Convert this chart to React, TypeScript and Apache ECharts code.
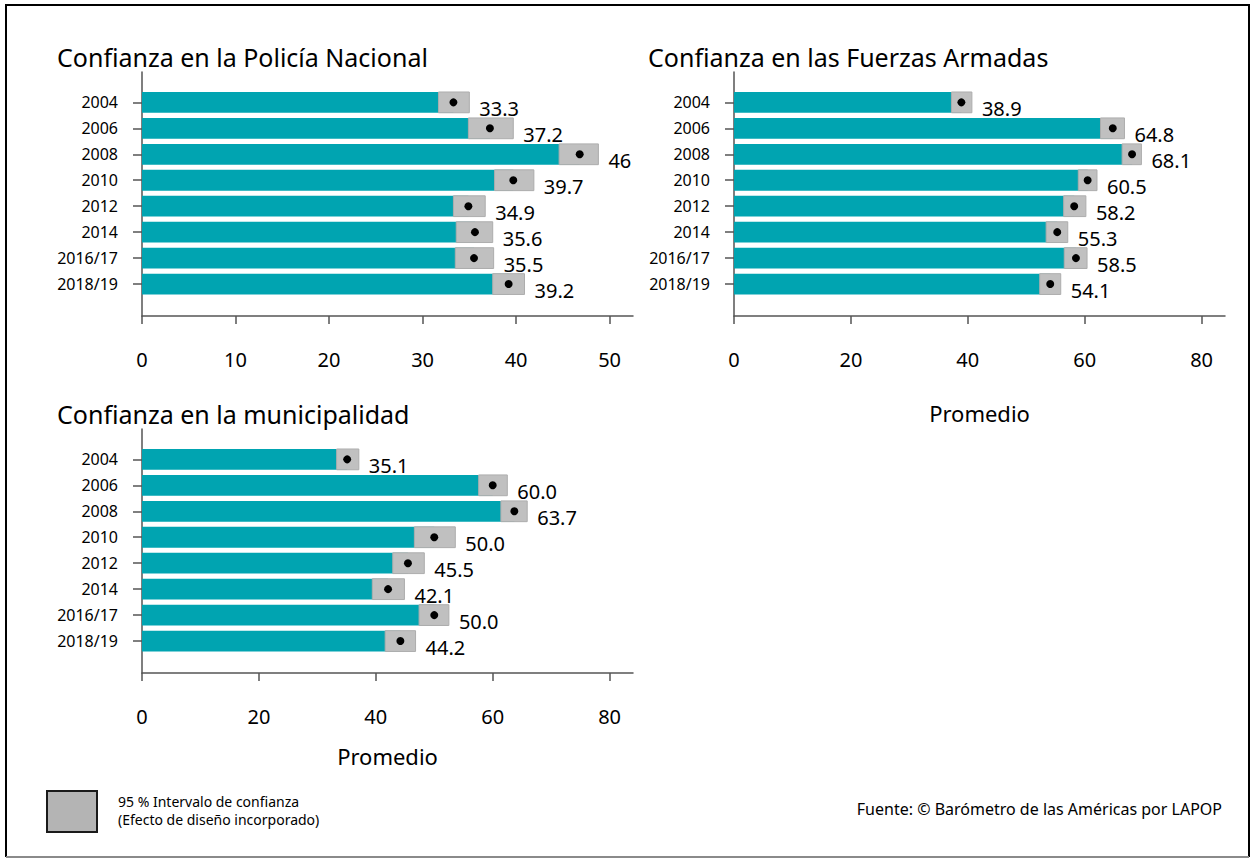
import React, { useEffect, useRef } from 'react';
import * as echarts from 'echarts';

const years = ['2004', '2006', '2008', '2010', '2012', '2014', '2016/17', '2018/19'];

const policiaMean = [33.3, 37.2, 46.8, 39.7, 34.9, 35.6, 35.5, 39.2];
const policiaLow = [31.7, 34.9, 44.6, 37.7, 33.3, 33.6, 33.5, 37.5];
const policiaHigh = [35.0, 39.7, 48.8, 41.9, 36.7, 37.5, 37.6, 40.9];
const policiaLabels = ['33.3', '37.2', '46', '39.7', '34.9', '35.6', '35.5', '39.2'];

const fuerzasMean = [38.9, 64.8, 68.1, 60.5, 58.2, 55.3, 58.5, 54.1];
const fuerzasLow = [37.2, 62.7, 66.4, 58.9, 56.4, 53.4, 56.5, 52.3];
const fuerzasHigh = [40.7, 66.8, 69.7, 62.1, 60.2, 57.1, 60.4, 55.9];
const fuerzasLabels = ['38.9', '64.8', '68.1', '60.5', '58.2', '55.3', '58.5', '54.1'];

const muniMean = [35.1, 60.0, 63.7, 50.0, 45.5, 42.1, 50.0, 44.2];
const muniLow = [33.3, 57.6, 61.4, 46.6, 42.9, 39.4, 47.4, 41.6];
const muniHigh = [37.1, 62.5, 65.9, 53.6, 48.3, 44.9, 52.5, 46.8];
const muniLabels = ['35.1', '60.0', '63.7', '50.0', '45.5', '42.1', '50.0', '44.2'];

const ticks50 = [0, 10, 20, 30, 40, 50];
const ticks80 = [0, 20, 40, 60, 80];

const titles = [
  'Confianza en la Policía Nacional',
  'Confianza en las Fuerzas Armadas',
  'Confianza en la municipalidad',
];
const axisName = 'Promedio';
const legendLines = ['95 % Intervalo de confianza', '(Efecto de diseño incorporado)'];
const sourceText = 'Fuente: © Barómetro de las Américas por LAPOP';

const FONT = '"Noto Sans", "Open Sans", sans-serif';
const TEAL = '#00a4b1';
const CI_FILL = '#c0c0c0';
const AXIS_COLOR = '#555555';

const yPositions = years.map((_, i) => i);

function makeSeries(gi: number, mean: number[], low: number[], high: number[], labels: string[]) {
  const data = years.map((_, i) => [mean[i], i, low[i], high[i]]);
  return {
    type: 'custom',
    xAxisIndex: gi,
    yAxisIndex: gi,
    data,
    encode: { x: [0, 2, 3], y: 1 },
    renderItem: (params: any, api: any) => {
      const m = api.value(0);
      const idx = api.value(1);
      const lo = api.value(2);
      const hi = api.value(3);
      const h = api.size([0, 0.8])[1];
      const p0 = api.coord([0, idx]);
      const pm = api.coord([m, idx]);
      const pl = api.coord([lo, idx]);
      const ph = api.coord([hi, idx]);
      return {
        type: 'group',
        children: [
          {
            type: 'rect',
            shape: { x: p0[0], y: p0[1] - h / 2, width: pm[0] - p0[0], height: h },
            style: { fill: TEAL },
          },
          {
            type: 'rect',
            shape: { x: pl[0], y: pl[1] - h / 2, width: ph[0] - pl[0], height: h },
            style: { fill: CI_FILL, stroke: '#adadad', lineWidth: 1 },
          },
          {
            type: 'circle',
            shape: { cx: pm[0], cy: pm[1], r: 4 },
            style: { fill: '#000' },
          },
          {
            type: 'text',
            style: {
              text: labels[params.dataIndex],
              x: ph[0] + 10,
              y: pm[1] + 6,
              fill: '#000',
              font: `20px ${FONT}`,
              align: 'left',
              verticalAlign: 'middle',
            },
          },
        ],
      };
    },
  };
}

function xAxisCfg(gi: number, max: number, ticks: number[], withName: boolean, nameGap: number) {
  return {
    gridIndex: gi,
    type: 'value',
    position: 'bottom',
    min: 0,
    max,
    name: withName ? axisName : '',
    nameLocation: 'middle',
    nameGap,
    nameTextStyle: { fontFamily: FONT, fontSize: 22, color: '#000' },
    axisLine: { show: true, onZero: false, lineStyle: { color: AXIS_COLOR, width: 1.5 } },
    axisTick: { show: true, length: 8, customValues: ticks, lineStyle: { color: AXIS_COLOR, width: 1.5 } },
    axisLabel: { customValues: ticks, fontFamily: FONT, fontSize: 20, color: '#000', margin: 33 },
    splitLine: { show: false },
  };
}

function yAxisCfg(gi: number) {
  return {
    gridIndex: gi,
    type: 'value',
    position: 'left',
    inverse: true,
    min: -1.17,
    max: 8.23,
    axisLine: { show: true, onZero: false, lineStyle: { color: AXIS_COLOR, width: 1.5 } },
    axisTick: { show: true, length: 9, customValues: yPositions, lineStyle: { color: AXIS_COLOR, width: 1.5 } },
    axisLabel: {
      customValues: yPositions,
      formatter: (v: number) => years[Math.round(v)] ?? '',
      fontFamily: FONT,
      fontSize: 16,
      color: '#000',
      margin: 24,
      padding: [6, 0, 0, 0],
    },
    splitLine: { show: false },
  };
}

export default function App() {
  const ref = useRef<HTMLDivElement>(null);

  useEffect(() => {
    if (!ref.current) return;
    const chart = echarts.init(ref.current, undefined, { renderer: 'svg' });
    const option: any = {
      animation: false,
      backgroundColor: '#ffffff',
      textStyle: { fontFamily: FONT },
      grid: [
        { left: 142, top: 72, width: 491, height: 244 },
        { left: 734, top: 72, width: 491, height: 244 },
        { left: 142, top: 429, width: 491, height: 244 },
      ],
      xAxis: [
        xAxisCfg(0, 52.5, ticks50, false, 86),
        xAxisCfg(1, 84, ticks80, true, 86),
        xAxisCfg(2, 84, ticks80, true, 72),
      ],
      yAxis: [yAxisCfg(0), yAxisCfg(1), yAxisCfg(2)],
      series: [
        makeSeries(0, policiaMean, policiaLow, policiaHigh, policiaLabels),
        makeSeries(1, fuerzasMean, fuerzasLow, fuerzasHigh, fuerzasLabels),
        makeSeries(2, muniMean, muniLow, muniHigh, muniLabels),
      ],
      graphic: [
        {
          type: 'polyline',
          shape: { points: [[6, 857], [6, 5], [1249, 5], [1249, 857]] },
          style: { stroke: '#000', lineWidth: 2, fill: 'none' },
        },
        {
          type: 'line',
          shape: { x1: 6, y1: 857, x2: 1249, y2: 857 },
          style: { stroke: '#8a8a8a', lineWidth: 2 },
        },
        { type: 'text', x: 57, y: 57, style: { text: titles[0], font: `25px ${FONT}`, fill: '#000', verticalAlign: 'middle' } },
        { type: 'text', x: 648, y: 57, style: { text: titles[1], font: `25px ${FONT}`, fill: '#000', verticalAlign: 'middle' } },
        { type: 'text', x: 57, y: 414, style: { text: titles[2], font: `25px ${FONT}`, fill: '#000', verticalAlign: 'middle' } },
        {
          type: 'rect',
          shape: { x: 47, y: 791, width: 50, height: 41 },
          style: { fill: '#b4b4b4', stroke: '#1a1a1a', lineWidth: 2 },
        },
        { type: 'text', x: 118, y: 801, style: { text: legendLines[0], font: `14px ${FONT}`, fill: '#000', verticalAlign: 'middle' } },
        { type: 'text', x: 118, y: 819, style: { text: legendLines[1], font: `14px ${FONT}`, fill: '#000', verticalAlign: 'middle' } },
        { type: 'text', x: 1222, y: 809, style: { text: sourceText, font: `16px ${FONT}`, fill: '#000', align: 'right', verticalAlign: 'middle' } },
      ],
    };
    chart.setOption(option);
    return () => chart.dispose();
  }, []);

  return (
    <div
      ref={ref}
      style={{ position: 'absolute', left: 0, top: 0, width: 1257, height: 860 }}
    />
  );
}
